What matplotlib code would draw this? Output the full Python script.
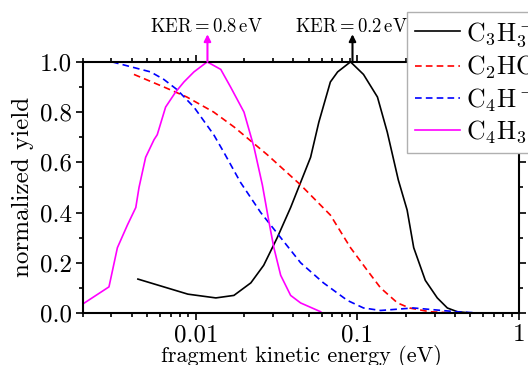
import matplotlib
matplotlib.use("Agg")
import matplotlib.pyplot as plt
from matplotlib.ticker import FixedLocator, FixedFormatter, MultipleLocator, LogLocator, NullFormatter

plt.rcParams['font.family'] = 'serif'
plt.rcParams['font.serif'] = ['cmr10', 'DejaVu Serif']
plt.rcParams['mathtext.fontset'] = 'cm'
plt.rcParams['axes.formatter.use_mathtext'] = True

# C3H3- (black)
c3h3_x = [0.00438, 0.00893, 0.0133, 0.0172, 0.0219, 0.0263, 0.0319, 0.0386, 0.0445, 0.0513,
          0.0577, 0.068, 0.0754, 0.0906, 0.109, 0.133, 0.153, 0.179, 0.203, 0.223, 0.263,
          0.312, 0.36, 0.415, 0.5, 0.57]
c3h3_y = [0.135, 0.075, 0.06, 0.07, 0.12, 0.19, 0.30, 0.42, 0.52, 0.62,
          0.76, 0.92, 0.96, 1.0, 0.95, 0.86, 0.72, 0.53, 0.41, 0.26, 0.13,
          0.06, 0.02, 0.005, 0.0, 0.0]

# C2HO- (red dashed)
c2ho_x = [0.00414, 0.00634, 0.0088, 0.0129, 0.0173, 0.0277, 0.0445, 0.068, 0.0906, 0.115,
          0.139, 0.177, 0.21, 0.28, 0.4, 0.57]
c2ho_y = [0.95, 0.90, 0.86, 0.80, 0.74, 0.63, 0.51, 0.39, 0.26, 0.17,
          0.10, 0.04, 0.02, 0.005, 0.0, 0.0]

# C4H- (blue dashed)
c4h_x = [0.00303, 0.00525, 0.00634, 0.00763, 0.00973, 0.0129, 0.0149, 0.0189, 0.0252, 0.0335,
         0.0445, 0.0616, 0.0867, 0.109, 0.139, 0.222, 0.41, 0.57]
c4h_y = [1.0, 0.96, 0.93, 0.89, 0.82, 0.71, 0.64, 0.52, 0.40, 0.30,
         0.20, 0.12, 0.05, 0.02, 0.01, 0.02, 0.005, 0.0]

# C4H3O- (magenta)
c4h3o_x = [0.002, 0.0029, 0.00327, 0.00377, 0.00425, 0.00445, 0.00489, 0.00551, 0.00577, 0.0065,
           0.0075, 0.00844, 0.00973, 0.01175, 0.01426, 0.0164, 0.01986, 0.0229, 0.0258,
           0.0284, 0.0304, 0.0335, 0.0386, 0.0445, 0.0592]
c4h3o_y = [0.036, 0.104, 0.26, 0.35, 0.42, 0.50, 0.62, 0.69, 0.71, 0.82,
           0.88, 0.92, 0.96, 1.0, 0.97, 0.90, 0.80, 0.66, 0.51,
           0.36, 0.26, 0.15, 0.07, 0.04, 0.005]

labels = [r'C$_3$H$_3^-$', r'C$_2$HO$^-$', r'C$_4$H$^-$', r'C$_4$H$_3$O$^-$']
xticks = [0.01, 0.1, 1]
xticklabels = ['0.01', '0.1', '1']

fig = plt.figure(figsize=(5.28, 3.65), dpi=100)
ax = fig.add_axes([0.157, 0.1425, 0.826, 0.688])

ax.plot(c3h3_x, c3h3_y, color='black', lw=1.2, label=labels[0])
ax.plot(c2ho_x, c2ho_y, color='red', lw=1.2, linestyle=(0, (4, 2.5)), label=labels[1])
ax.plot(c4h_x, c4h_y, color='blue', lw=1.2, linestyle=(0, (4, 2.5)), label=labels[2])
ax.plot(c4h3o_x, c4h3o_y, color='magenta', lw=1.2, label=labels[3])

ax.set_xscale('log')
ax.set_xlim(0.002, 1)
ax.set_ylim(0, 1)
ax.xaxis.set_major_locator(FixedLocator(xticks))
ax.xaxis.set_major_formatter(FixedFormatter(xticklabels))
ax.xaxis.set_minor_locator(LogLocator(base=10, subs=range(2, 10)))
ax.xaxis.set_minor_formatter(NullFormatter())
ax.yaxis.set_major_locator(MultipleLocator(0.2))
ax.yaxis.set_minor_locator(MultipleLocator(0.1))
ax.yaxis.set_major_formatter(plt.FuncFormatter(lambda v, p: '%.1f' % v))

ax.tick_params(which='both', direction='out', top=True, right=True, labelsize=18, width=1.2)
ax.tick_params(which='major', length=5, pad=3)
ax.tick_params(which='minor', length=3)
for s in ax.spines.values():
    s.set_linewidth(1.5)

ax.set_xlabel('fragment kinetic energy (eV)', fontsize=16, labelpad=-1)
ax.set_ylabel('normalized yield', fontsize=18, labelpad=4)

# KER arrows
ax.annotate('', xy=(0.0118, 1.11), xytext=(0.0118, 1.0),
            arrowprops=dict(arrowstyle='-|>', color='magenta', lw=1.5, shrinkA=0, shrinkB=0,
                            mutation_scale=10),
            annotation_clip=False)
ax.annotate('', xy=(0.0932, 1.11), xytext=(0.0932, 1.0),
            arrowprops=dict(arrowstyle='-|>', color='black', lw=1.5, shrinkA=0, shrinkB=0,
                            mutation_scale=10),
            annotation_clip=False)
ax.text(0.0116, 1.117, r'$\mathrm{KER}=0.8\,\mathrm{eV}$', ha='center', va='baseline', fontsize=13.5)
ax.text(0.0925, 1.117, r'$\mathrm{KER}=0.2\,\mathrm{eV}$', ha='center', va='baseline', fontsize=13.5)

leg = fig.legend(loc='upper left', bbox_to_anchor=(407 / 528, 1 - 12 / 365), fontsize=18.5,
                 fancybox=False, edgecolor='#b0b0b0', framealpha=1, borderaxespad=0,
                 handlelength=1.75, handletextpad=0.25, labelspacing=0.2, borderpad=0.3)
leg.get_frame().set_linewidth(1.0)

fig.savefig('out.png', dpi=100)
